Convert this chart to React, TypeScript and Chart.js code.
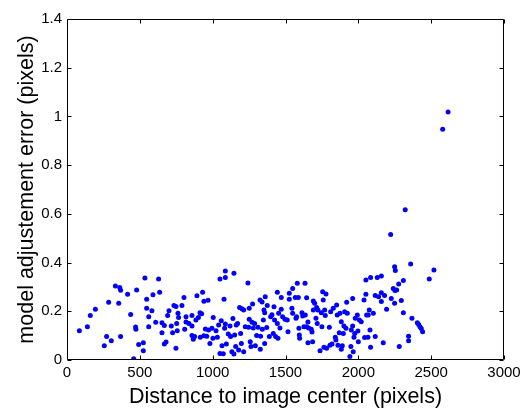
import React, { useEffect, useRef } from "react";
import { Chart, registerables } from "chart.js";

Chart.register(...registerables);

const xTicks = [0, 500, 1000, 1500, 2000, 2500, 3000];
const yTicks = [0, 0.2, 0.4, 0.6, 0.8, 1, 1.2, 1.4];
const xTitle = "Distance to image center (pixels)";
const yTitle = "model adjustement error (pixels)";

const distance = [
  85, 140, 160, 195, 256, 272, 286, 304, 332, 355, 362, 368, 368, 416, 437, 458, 471, 473, 478, 492,
  524, 524, 535, 547, 547, 561, 561, 583, 590, 609, 629, 636, 652, 652, 668, 668, 680, 691, 700, 716,
  725, 734, 748, 748, 753, 757, 762, 766, 789, 803, 808, 817, 817, 837, 858, 858, 858, 867, 876, 885,
  892, 902, 913, 915, 924, 931, 940, 940, 950, 959, 968, 972, 981, 995, 1004, 1002, 1023, 1032, 1041, 1050,
  1050, 1059, 1064, 1073, 1078, 1082, 1087, 1087, 1087, 1094, 1107, 1119, 1123, 1132, 1139, 1146, 1146, 1151, 1158, 1162,
  1171, 1178, 1185, 1192, 1197, 1201, 1213, 1213, 1224, 1242, 1247, 1251, 1251, 1258, 1263, 1270, 1274, 1279, 1288, 1293,
  1302, 1311, 1325, 1327, 1329, 1339, 1341, 1348, 1352, 1357, 1357, 1361, 1371, 1375, 1389, 1398, 1407, 1416, 1421, 1425,
  1432, 1444, 1444, 1448, 1453, 1462, 1471, 1471, 1480, 1496, 1512, 1517, 1526, 1526,
  1544, 1549, 1549, 1567, 1581, 1588, 1572, 1576, 1592, 1595, 1597, 1613, 1618, 1627, 1634, 1636, 1645, 1645, 1654, 1654,
  1659, 1677, 1682, 1686, 1691, 1691, 1700, 1709, 1714, 1718, 1723, 1737, 1746, 1750, 1755, 1759, 1764, 1769, 1773, 1778,
  1782, 1801, 1805, 1810, 1819, 1828, 1842, 1846, 1851, 1855, 1860, 1869, 1874, 1883, 1883, 1890, 1897, 1901, 1906, 1915,
  1920, 1924, 1942, 1949, 1952, 1961, 1961, 1965, 1970, 1975, 1979, 1993, 1997, 2000, 2007, 2020, 2039, 2043, 2052, 2052,
  2057, 2066, 2068, 2075, 2080, 2084, 2084, 2103, 2116, 2116, 2130, 2139, 2158, 2158, 2158, 2171, 2180, 2194, 2222, 2226,
  2240, 2249, 2249, 2254, 2251, 2263, 2277, 2281, 2295, 2309, 2309, 2322, 2345, 2345, 2359, 2368, 2405, 2414, 2423, 2432,
  2441, 2487, 2519, 2579, 2616,
];

const adjustError = [
  0.12, 0.137, 0.183, 0.208, 0.059, 0.096, 0.237, 0.079, 0.304, 0.233, 0.298, 0.286, 0.096, 0.27, 0.187, 0.005, 0.135, 0.126, 0.287, 0.064,
  0.071, 0.038, 0.337, 0.249, 0.212, 0.178, 0.137, 0.202, 0.268, 0.155, 0.333, 0.278, 0.112, 0.153, 0.142, 0.066, 0.074, 0.183, 0.202, 0.14,
  0.112, 0.224, 0.048, 0.22, 0.15, 0.12, 0.192, 0.175, 0.224, 0.257, 0.126, 0.178, 0.156, 0.15, 0.183, 0.14, 0.101, 0.085, 0.096, 0.164,
  0.264, 0.174, 0.194, 0.093, 0.19, 0.278, 0.241, 0.1, 0.127, 0.098, 0.245, 0.123, 0.068, 0.13, 0.175, 0.089, 0.12, 0.093, 0.144, 0.333,
  0.027, 0.161, 0.059, 0.026, 0.249, 0.13, 0.148, 0.339, 0.365, 0.066, 0.107, 0.14, 0.096, 0.034, 0.17, 0.356, 0.025, 0.103, 0.055, 0.144,
  0.15, 0.041, 0.216, 0.109, 0.068, 0.21, 0.205, 0.034, 0.137, 0.316, 0.134, 0.212, 0.167, 0.075, 0.055, 0.155, 0.23, 0.131, 0.15, 0.059,
  0.101, 0.134, 0.246, 0.044, 0.098, 0.238, 0.126, 0.164, 0.205, 0.194, 0.068, 0.26, 0.133, 0.224, 0.096, 0.178, 0.186, 0.109, 0.219, 0.164,
  0.096, 0.278, 0.15, 0.089, 0.192, 0.131, 0.257, 0.208, 0.178, 0.167, 0.164, 0.116, 0.274, 0.249,
  0.212, 0.294, 0.192, 0.257, 0.315, 0.257, 0.171, 0.178, 0.13, 0.103, 0.089, 0.194, 0.181, 0.137, 0.315, 0.185, 0.256, 0.137, 0.156, 0.071,
  0.131, 0.126, 0.115, 0.075, 0.242, 0.205, 0.233, 0.171, 0.216, 0.15, 0.205, 0.038, 0.194, 0.137, 0.28, 0.246, 0.052, 0.205, 0.183, 0.271,
  0.048, 0.134, 0.061, 0.198, 0.066, 0.212, 0.093, 0.082, 0.226, 0.185, 0.061, 0.112, 0.192, 0.157, 0.044, 0.059, 0.109, 0.14, 0.198, 0.13,
  0.237, 0.192, 0.014, 0.055, 0.123, 0.252, 0.14, 0.034, 0.093, 0.109, 0.171, 0.185, 0.119, 0.075, 0.164, 0.157, 0.246, 0.092, 0.328, 0.27,
  0.185, 0.093, 0.185, 0.205, 0.123, 0.339, 0.052, 0.192, 0.096, 0.265, 0.339, 0.26, 0.345, 0.276, 0.24, 0.071, 0.265, 0.208, 0.515, 0.253,
  0.294, 0.233, 0.383, 0.367, 0.285, 0.287, 0.312, 0.055, 0.244, 0.326, 0.194, 0.617, 0.098, 0.079, 0.394, 0.171, 0.153, 0.146, 0.137, 0.129,
  0.116, 0.333, 0.37, 0.947, 1.018,
];

const FONT = "'Liberation Sans', Arial, Helvetica, sans-serif";

const boxPlugin = {
  id: "matlabBox",
  afterDraw(chart: any) {
    const { ctx, chartArea: a, scales } = chart;
    const l = Math.round(a.left) + 0.5;
    const r = Math.round(a.right) - 0.5;
    const t = Math.round(a.top) + 0.5;
    const b = Math.round(a.bottom) - 0.5;
    const L = 4;
    ctx.save();
    ctx.strokeStyle = "#000";
    ctx.lineWidth = 1;
    ctx.beginPath();
    ctx.moveTo(l, t);
    ctx.lineTo(r, t);
    ctx.lineTo(r, b);
    ctx.lineTo(l, b);
    ctx.closePath();
    xTicks.forEach((v) => {
      const px = Math.round(scales.x.getPixelForValue(v)) + 0.5;
      ctx.moveTo(px, b);
      ctx.lineTo(px, b - L);
      ctx.moveTo(px, t);
      ctx.lineTo(px, t + L);
    });
    yTicks.forEach((v) => {
      const py = Math.round(scales.y.getPixelForValue(v)) + 0.5;
      ctx.moveTo(l, py);
      ctx.lineTo(l + L, py);
      ctx.moveTo(r, py);
      ctx.lineTo(r - L, py);
    });
    ctx.stroke();
    ctx.restore();
  },
};

export default function App() {
  const ref = useRef<HTMLCanvasElement | null>(null);

  useEffect(() => {
    if (!ref.current) return;
    const points = distance.map((d, i) => ({ x: d, y: adjustError[i] }));
    const chart = new Chart(ref.current, {
      type: "scatter",
      data: {
        datasets: [
          {
            data: points,
            backgroundColor: "#0000ff",
            borderWidth: 0,
            pointRadius: 2.5,
            pointHoverRadius: 2.5,
          },
        ],
      },
      options: {
        responsive: false,
        animation: false,
        devicePixelRatio: 1,
        events: [],
        layout: { padding: { left: 0, right: 17, top: 19, bottom: 0 } },
        plugins: { legend: { display: false }, tooltip: { enabled: false } },
        scales: {
          x: {
            type: "linear",
            min: 0,
            max: 3000,
            afterBuildTicks: (s: any) => {
              s.ticks = xTicks.map((v) => ({ value: v }));
            },
            afterFit: (s: any) => {
              s.height = 48;
              s.paddingLeft = 0;
              s.paddingRight = 0;
            },
            grid: { display: false, drawTicks: false },
            border: { display: false },
            ticks: {
              padding: 4,
              color: "#000",
              maxRotation: 0,
              autoSkip: false,
              font: { family: FONT, size: 15 },
              callback: (v: any) => String(v),
            },
            title: {
              display: true,
              text: xTitle,
              color: "#000",
              font: { family: FONT, size: 21.5, lineHeight: 1 },
              padding: { top: 0, bottom: 0 },
            },
          },
          y: {
            type: "linear",
            min: 0,
            max: 1.4,
            afterBuildTicks: (s: any) => {
              s.ticks = yTicks.map((v) => ({ value: v }));
            },
            afterFit: (s: any) => {
              s.width = 67;
              s.paddingTop = 0;
              s.paddingBottom = 0;
            },
            grid: { display: false, drawTicks: false },
            border: { display: false },
            ticks: {
              padding: 5,
              color: "#000",
              autoSkip: false,
              font: { family: FONT, size: 15 },
              callback: (v: any) => String(Math.round(Number(v) * 10) / 10),
            },
            title: {
              display: true,
              text: yTitle,
              color: "#000",
              font: { family: FONT, size: 21.5, lineHeight: 1 },
              padding: { top: 16.5, bottom: 0 },
            },
          },
        },
      },
      plugins: [boxPlugin],
    });
    return () => chart.destroy();
  }, []);

  return (
    <div style={{ position: "absolute", left: 0, top: 0, width: 521, height: 408, background: "#fff" }}>
      <canvas ref={ref} width={521} height={408} style={{ display: "block" }} />
    </div>
  );
}
